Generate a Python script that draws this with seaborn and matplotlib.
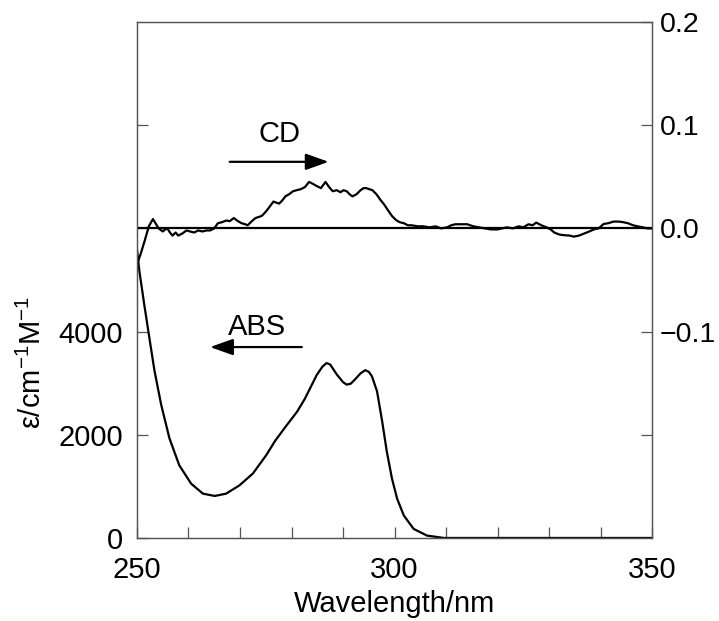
import matplotlib
matplotlib.use("Agg")
import matplotlib.pyplot as plt
import seaborn as sns
import pandas as pd
from matplotlib.ticker import MultipleLocator, FixedLocator, FuncFormatter

# ABS spectrum (left axis, epsilon / cm^-1 M^-1)
abs_wl = [250.0, 250.45, 251.4, 252.4, 253.4, 254.7, 256.3, 258.2, 260.5, 262.8, 265.1,
          267.3, 269.9, 272.5, 275.1, 276.8, 278.8, 281.1, 282.6, 284.0, 284.9, 286.0,
          286.8, 287.5, 288.8, 290.0, 290.7, 291.5, 292.3, 293.4, 294.3, 295.0, 295.6,
          296.6, 297.6, 298.5, 299.5, 300.5, 301.8, 303.7, 306.3, 309.6, 315.0, 320.0,
          330.0, 340.0, 350.0]
abs_eps = [5600, 5184, 4533, 3883, 3240, 2582, 1932, 1411, 1054, 859, 814,
           859, 1020, 1249, 1606, 1880, 2150, 2450, 2700, 2980, 3160, 3320,
           3390, 3362, 3167, 3020, 2972, 2990, 3070, 3190, 3252, 3220, 3135,
           2843, 2257, 1672, 1151, 761, 435, 176, 46, 0, 0, 0,
           0, 0, 0]

# CD spectrum (right axis)
cd_wl = [250.0, 250.7, 251.5, 252.3, 253.1, 253.6, 254.2, 255.0, 255.5, 255.9, 256.4,
         256.9, 257.5, 258.0, 258.8, 259.6, 260.3, 261.1, 261.9, 262.7, 263.5, 264.2,
         265.0, 265.7, 266.5, 267.3, 268.0, 268.8, 269.6, 270.3, 271.0, 271.5, 272.3,
         273.0, 273.6, 274.2, 274.8, 275.3, 275.9, 276.5, 277.0, 277.6, 278.2, 278.8,
         279.5, 280.3, 281.0, 281.8, 282.6, 283.4, 284.2, 284.9, 285.7, 286.6, 287.3,
         288.0, 288.8, 289.5, 290.1, 290.7, 291.3, 291.8, 292.6, 293.4, 294.0, 294.5,
         295.1, 295.7, 296.5, 297.2, 298.0, 298.8, 299.5, 300.3, 301.0, 301.8, 302.6,
         303.3, 304.5, 305.6, 306.8, 308.0, 309.0, 310.2, 311.0, 311.8, 313.0, 314.1,
         315.3, 316.4, 317.5, 318.7, 320.0, 321.8, 323.0, 324.1, 325.0, 326.0, 326.8,
         327.5, 328.5, 329.5, 330.3, 331.0, 332.0, 332.9, 334.0, 334.8, 335.8, 336.8,
         337.8, 338.7, 339.6, 340.6, 341.5, 342.5, 343.5, 344.4, 345.3, 346.3, 347.2,
         348.2, 349.1, 350.0]
cd_val = [-0.035, -0.025, -0.012, 0.002, 0.009, 0.005, 0.000, -0.003, -0.001, 0.000, -0.004,
          -0.007, -0.004, -0.007, -0.005, -0.002, -0.003, -0.004, -0.002, -0.003, -0.002, -0.002,
          0.000, 0.005, 0.006, 0.0076, 0.007, 0.010, 0.007, 0.005, 0.004, 0.003, 0.007,
          0.010, 0.011, 0.012, 0.015, 0.018, 0.022, 0.026, 0.025, 0.024, 0.027, 0.031,
          0.033, 0.036, 0.037, 0.038, 0.040, 0.045, 0.043, 0.041, 0.039, 0.045, 0.040,
          0.036, 0.037, 0.035, 0.037, 0.036, 0.033, 0.031, 0.033, 0.037, 0.039, 0.039,
          0.038, 0.037, 0.033, 0.028, 0.023, 0.017, 0.012, 0.008, 0.006, 0.005, 0.003,
          0.003, 0.002, 0.002, 0.001, 0.002, 0.000, 0.001, 0.003, 0.004, 0.004, 0.004,
          0.002, 0.001, 0.000, -0.001, -0.001, 0.001, 0.000, 0.002, 0.001, 0.004, 0.003,
          0.0056, 0.003, 0.001, -0.001, -0.004, -0.006, -0.0066, -0.007, -0.008, -0.007, -0.005,
          -0.003, -0.001, 0.000, 0.0043, 0.005, 0.0066, 0.0066, 0.006, 0.005, 0.003, 0.002,
          0.001, 0.000, 0.000]

left_ticks = [0, 2000, 4000, 6000, 8000]
left_labels = ["0", "2000", "4000", "", ""]
right_ticks = [-0.2, -0.1, 0.0, 0.1, 0.2]
right_labels = ["", "\u22120.1", "0.0", "0.1", "0.2"]

sns.set_theme(style="white")
plt.rcParams["font.family"] = ["Liberation Sans", "DejaVu Sans"]
plt.rcParams["mathtext.fontset"] = "custom"
plt.rcParams["mathtext.rm"] = "Liberation Sans"
plt.rcParams["mathtext.it"] = "Liberation Sans"
plt.rcParams["text.color"] = "black"
plt.rcParams["axes.labelcolor"] = "black"

FS = 21
spine_c = "#555555"

fig = plt.figure(figsize=(7.19, 6.21), dpi=100)
ax = fig.add_axes([0.1905, 0.1337, 0.907 - 0.1905, 0.9646 - 0.1337])
ax2 = ax.twinx()

df_abs = pd.DataFrame({"wl": abs_wl, "eps": abs_eps})
df_cd = pd.DataFrame({"wl": cd_wl, "cd": cd_val})

sns.lineplot(data=df_abs, x="wl", y="eps", ax=ax, color="black", lw=1.6, sort=False)
sns.lineplot(data=df_cd, x="wl", y="cd", ax=ax2, color="black", lw=1.6, sort=False)
ax2.axhline(0, color="black", lw=1.6)

ax.set_xlim(250, 350)
ax.set_ylim(0, 10000)
ax2.set_ylim(-0.3, 0.2)

ax.xaxis.set_major_locator(MultipleLocator(10))
ax.xaxis.set_major_formatter(FuncFormatter(lambda v, p: f"{int(round(v))}" if int(round(v)) % 50 == 0 else ""))
ax.yaxis.set_major_locator(FixedLocator(left_ticks))
ax.set_yticklabels(left_labels)
ax2.yaxis.set_major_locator(FixedLocator(right_ticks))
ax2.set_yticklabels(right_labels)

for a in (ax, ax2):
    for s in a.spines.values():
        s.set_color(spine_c)
        s.set_linewidth(0.9)
        s.set_visible(True)
ax.tick_params(axis="x", direction="in", length=8, width=0.9, color=spine_c,
               labelsize=FS, labelcolor="black", pad=13, bottom=True, top=False)
ax.tick_params(axis="y", direction="in", length=8, width=0.9, color=spine_c,
               labelsize=FS, labelcolor="black", pad=10, left=True)
ax2.tick_params(axis="y", direction="in", length=8, width=0.9, color=spine_c,
                labelsize=20.5, labelcolor="black", pad=5.5, right=True)

ax.set_xlabel("Wavelength/nm", fontsize=FS, labelpad=4)
ax.set_ylabel(r"ε/cm$^{-1}$M$^{-1}$", fontsize=FS)
ax.yaxis.set_label_coords(-0.175, 0.34)
ax2.set_ylabel("")

ax.text(273.3, 4080, "ABS", fontsize=FS, ha="center", va="center")
ax.annotate("", xy=(264.2, 3700), xytext=(282.0, 3700),
            arrowprops=dict(arrowstyle="-|>,head_length=0.7,head_width=0.25",
                            color="black", lw=1.6, mutation_scale=20, shrinkA=0, shrinkB=0))
ax2.text(277.6, 0.091, "CD", fontsize=FS, ha="center", va="center")
ax2.annotate("", xy=(287.2, 0.0645), xytext=(268.0, 0.0645),
             arrowprops=dict(arrowstyle="-|>,head_length=0.7,head_width=0.25",
                             color="black", lw=1.6, mutation_scale=20, shrinkA=0, shrinkB=0))

fig.savefig("out.png", dpi=100)
